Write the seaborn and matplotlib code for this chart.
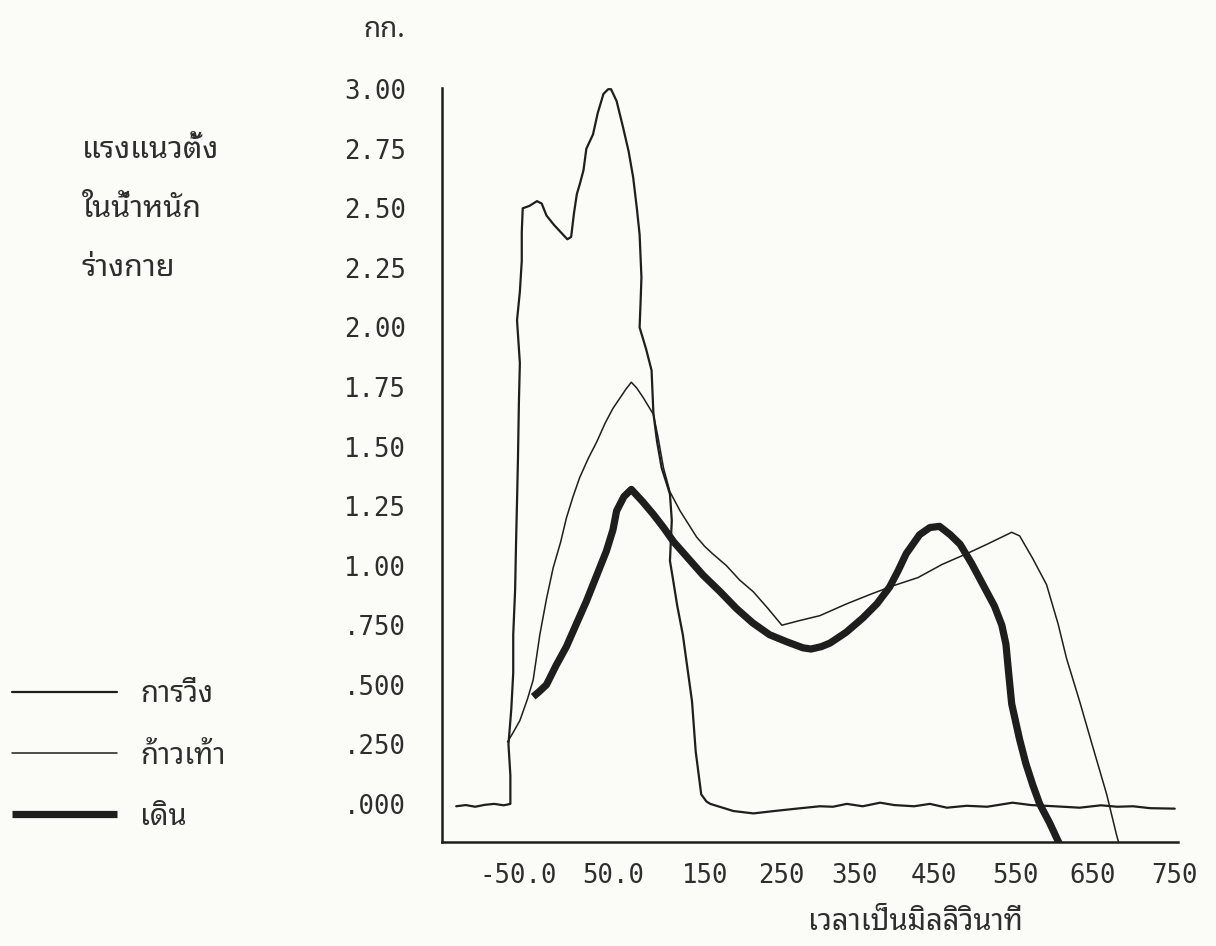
import numpy as np
import matplotlib
matplotlib.use("Agg")
import matplotlib.pyplot as plt
import seaborn as sns

# data: time in ms, vertical force in body weights
run_ms = [-115, -105, -95, -85, -75, -65, -58,
          -58, -60, -57, -55, -55, -53, -52, -51, -50, -49, -48, -51, -48, -46, -46, -45,
          -38, -30, -25, -20, -12, -5, 2, 6,
          9, 12, 15, 19, 22, 29, 34, 40, 45, 48,
          54, 61, 67, 72, 76, 79, 81, 80, 79, 86, 92, 94, 98, 103, 108, 112, 114, 112,
          115, 120, 126, 131, 136, 140, 144, 146, 152,
          157, 172, 187, 200, 213, 240, 270, 302, 320, 339, 360, 382, 400, 425,
          445, 466, 490, 515, 546, 570, 600, 633, 660, 680, 699, 720, 750]
run_val = [-0.01, -0.005, -0.012, -0.004, 0.0, -0.006, 0.0,
           0.12, 0.25, 0.40, 0.55, 0.71, 0.90, 1.10, 1.27, 1.45, 1.69, 1.85, 2.03, 2.15, 2.28, 2.40, 2.50,
           2.51, 2.53, 2.52, 2.47, 2.43, 2.40, 2.37, 2.38,
           2.48, 2.56, 2.60, 2.66, 2.75, 2.81, 2.90, 2.98, 3.00, 3.00,
           2.95, 2.84, 2.74, 2.63, 2.50, 2.39, 2.21, 2.10, 2.00, 1.91, 1.82, 1.64, 1.52, 1.41, 1.35, 1.30, 1.19, 1.02,
           0.95, 0.83, 0.71, 0.57, 0.43, 0.22, 0.10, 0.04, 0.01,
           0.0, -0.015, -0.03, -0.035, -0.04, -0.03, -0.02, -0.01, -0.012, 0.0, -0.01, 0.005, -0.005, -0.01,
           0.0, -0.016, -0.008, -0.012, 0.005, -0.005, -0.01, -0.016, -0.006, -0.012, -0.01, -0.018, -0.02]

step_ms = [-61, -55, -48, -40, -34, -27, -20, -13, -5, 1, 8, 15, 24, 33, 42, 50, 57, 64, 70,
           76, 83, 94, 99, 105, 112, 123, 141, 150, 160, 178, 195, 213, 232, 250,
           275, 302, 339, 370, 398, 430, 460, 490, 515, 539, 545,
           555, 572, 590, 605, 616, 633, 650, 667, 679, 683]
step_val = [0.26, 0.30, 0.35, 0.44, 0.52, 0.71, 0.86, 0.99, 1.10, 1.20, 1.29, 1.37, 1.45, 1.52, 1.60, 1.66, 1.70, 1.74, 1.77,
            1.745, 1.705, 1.635, 1.54, 1.41, 1.31, 1.23, 1.12, 1.08, 1.05, 1.00, 0.94, 0.89, 0.82, 0.75,
            0.77, 0.79, 0.84, 0.88, 0.915, 0.95, 1.005, 1.05, 1.09, 1.13, 1.14,
            1.125, 1.03, 0.92, 0.755, 0.61, 0.43, 0.24, 0.04, -0.13, -0.18]

walk_ms = [-34, -28, -20, -10, 1, 12, 22, 33, 43, 50, 54, 62, 70,
           82, 94, 105, 116, 132, 148, 170, 191, 212, 234, 257, 279, 290,
           304, 316, 338, 360, 378, 394, 405, 415, 432, 445, 457,
           470, 482, 496, 510, 524, 533, 538, 541, 545, 555, 563, 572, 581, 594, 607]
walk_val = [0.45, 0.47, 0.50, 0.58, 0.66, 0.76, 0.85, 0.96, 1.06, 1.15, 1.23, 1.29, 1.32,
            1.27, 1.215, 1.16, 1.10, 1.03, 0.96, 0.89, 0.82, 0.76, 0.71, 0.68, 0.655, 0.65,
            0.66, 0.675, 0.72, 0.78, 0.84, 0.91, 0.98, 1.05, 1.13, 1.16, 1.165,
            1.13, 1.09, 1.01, 0.92, 0.83, 0.75, 0.67, 0.56, 0.42, 0.27, 0.17, 0.08, 0.0, -0.08, -0.17]

series_names = ["การวิ่ง", "ก้าวเท้า", "เดิน"]

x_ticks = [-50, 50, 150, 250, 350, 450, 550, 650, 750]
x_labels = ["-50.0", "50.0", "150", "250", "350", "450", "550", "650", "750"]
y_ticks = [0, 0.25, 0.5, 0.75, 1.0, 1.25, 1.5, 1.75, 2.0, 2.25, 2.5, 2.75, 3.0]
y_labels = [".000", ".250", ".500", ".750", "1.00", "1.25", "1.50", "1.75",
            "2.00", "2.25", "2.50", "2.75", "3.00"]

# the old plotter spaced its x ticks unevenly, mimic that with a piecewise scale
knot_ms = [-150, -50, 50, 150, 250, 350, 450, 550, 650, 750, 850]
knot_pos = [423, 518, 613, 705, 782, 855, 934, 1016, 1093, 1175, 1257]


def fwd(x):
    return np.interp(x, knot_ms, knot_pos)


def inv(p):
    return np.interp(p, knot_pos, knot_ms)


sns.set_style("white")
thai = ["Noto Sans Thai Looped", "Sarabun", "Noto Sans Thai", "DejaVu Sans"]
mono = ["DejaVu Sans Mono"]
plt.rcParams["font.family"] = thai

ink = "#1e1e1e"
text_col = "#2e2e2e"
paper = "#fbfbf8"

fig, ax = plt.subplots(figsize=(12.16, 9.46), dpi=100)
fig.patch.set_facecolor(paper)
ax.set_facecolor(paper)
fig.subplots_adjust(left=442 / 1216, right=1178 / 1216, top=1 - 88 / 946, bottom=1 - 842 / 946)

sns.lineplot(x=run_ms, y=run_val, sort=False, estimator=None, color=ink, linewidth=1.6,
             label=series_names[0], ax=ax)
sns.lineplot(x=step_ms, y=step_val, sort=False, estimator=None, color=ink, linewidth=1.1,
             label=series_names[1], ax=ax)
sns.lineplot(x=walk_ms, y=walk_val, sort=False, estimator=None, color=ink, linewidth=5.2,
             solid_capstyle="butt", solid_joinstyle="round", label=series_names[2], ax=ax)

ax.set_xscale("function", functions=(fwd, inv))
ax.set_xlim(-130, 754)
ax.set_ylim(-0.16, 3.005)
ax.set_xticks(x_ticks)
ax.set_xticklabels(x_labels, family=mono, fontsize=18.5)
ax.set_yticks(y_ticks)
ax.set_yticklabels(y_labels, family=mono, fontsize=18.5)
ax.minorticks_off()
ax.tick_params(axis="y", direction="out", length=10, width=1.5, pad=16, colors=ink, labelcolor=text_col)
ax.tick_params(axis="x", direction="out", length=6, width=1.5, pad=9, colors=ink, labelcolor=text_col)
sns.despine(ax=ax)
for side in ["left", "bottom"]:
    ax.spines[side].set_linewidth(1.8)
    ax.spines[side].set_color(ink)
ax.set_xlabel("")
ax.set_ylabel("")

# axis titles placed like the original page
fig.text(405 / 1216, 1 - 30 / 946, "กก.", ha="right", va="center", fontsize=20, color=text_col)
for i, line in enumerate(["แรงแนวตั้ง", "ในน้ำหนัก", "ร่างกาย"]):
    fig.text(82 / 1216, 1 - (150 + 59 * i) / 946, line, ha="left", va="center",
             fontsize=22, color=text_col)
fig.text(915 / 1216, 1 - 922 / 946, "เวลาเป็นมิลลิวินาที", ha="center", va="center",
         fontsize=21, color=text_col)

ax.legend(loc="center left", bbox_to_anchor=(12 / 1216, 1 - 756 / 946), bbox_transform=fig.transFigure,
          frameon=False, fontsize=21, handlelength=3.6, handletextpad=0.8, labelspacing=1.1,
          borderpad=0, borderaxespad=0, labelcolor=text_col)

fig.savefig("out.png", dpi=100, facecolor=paper)
